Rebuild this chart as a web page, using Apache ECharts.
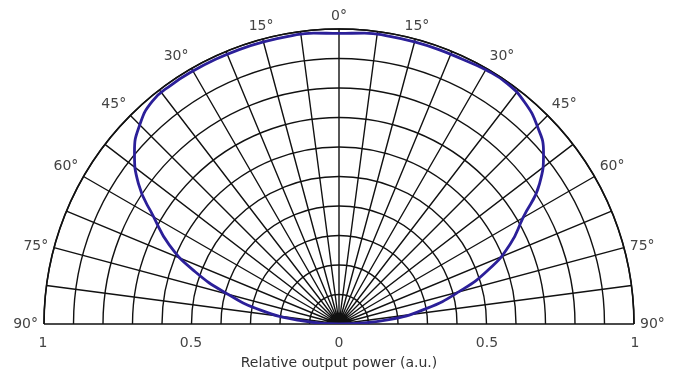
<!DOCTYPE html>
<html>
<head>
<meta charset="utf-8">
<script src="https://cdn.jsdelivr.net/npm/echarts@6/dist/echarts.min.js"></script>
<style>
  html, body { margin: 0; padding: 0; background: #fff; }
  #chart { width: 680px; height: 374px; }
</style>
</head>
<body>
<div id="chart"></div>
<script>
// emission angle (deg) and relative output power
var angles = [-90, -85, -80, -75, -70, -65, -60, -55, -50, -45, -40, -35, -30, -25, -20, -15, -10, -5,
              0, 5, 10, 15, 20, 25, 30, 35, 40, 45, 50, 55, 60, 65, 70, 75, 80, 85, 90];
var power = [0, 0.13, 0.27, 0.39, 0.52, 0.635, 0.725, 0.83, 0.905, 0.955, 0.985, 0.99, 0.99, 0.99, 0.99, 0.99, 0.99, 0.99,
             0.985, 0.99, 0.99, 0.99, 0.99, 0.99, 0.995, 0.995, 0.98, 0.95, 0.905, 0.83, 0.72, 0.64, 0.54, 0.42, 0.30, 0.17, 0];
var angleLabels = [0, 15, 30, 45, 60, 75, 90];
var powerTicks = [-1, -0.5, 0, 0.5, 1];

var font = 'DejaVu Sans, sans-serif';
var chart = echarts.init(document.getElementById('chart'));

var data = angles.map(function (a, i) { return [power[i], a]; });

chart.setOption({
  animation: false,
  backgroundColor: '#fff',
  polar: { center: [339, 324], radius: 295 },
  angleAxis: {
    type: 'value',
    min: -90,
    max: 90,
    interval: 7.5,
    startAngle: 180,
    endAngle: 0,
    clockwise: true,
    axisLine: { lineStyle: { color: '#111', width: 1.6 } },
    axisTick: { show: false },
    splitLine: { lineStyle: { color: '#111', width: 1.4 } },
    axisLabel: {
      color: '#444',
      fontFamily: font,
      fontSize: 14,
      margin: 6,
      formatter: function (v) {
        return angleLabels.indexOf(Math.abs(v)) >= 0 ? Math.abs(v) + '°' : '';
      }
    }
  },
  radiusAxis: {
    type: 'value',
    min: 0,
    max: 1,
    interval: 0.1,
    axisLine: { show: false },
    axisTick: { show: false },
    axisLabel: { show: false },
    splitLine: { lineStyle: { color: '#111', width: 1.4 } }
  },
  grid: { left: 43, right: 45, top: 300, bottom: 50 },
  xAxis: {
    type: 'value',
    min: -1,
    max: 1,
    interval: 0.5,
    axisLine: { show: false },
    axisTick: { show: false },
    splitLine: { show: false },
    axisLabel: {
      color: '#444',
      fontFamily: font,
      fontSize: 14,
      margin: 12,
      customValues: powerTicks,
      formatter: function (v) { return String(Math.abs(v)); }
    },
    name: 'Relative output power (a.u.)',
    nameLocation: 'middle',
    nameGap: 32,
    nameTextStyle: { color: '#333', fontFamily: font, fontSize: 14 }
  },
  yAxis: { type: 'value', show: false },
  series: [{
    type: 'line',
    coordinateSystem: 'polar',
    data: data,
    smooth: true,
    showSymbol: false,
    lineStyle: { color: '#2b1f99', width: 2.8 }
  }]
});
</script>
</body>
</html>
